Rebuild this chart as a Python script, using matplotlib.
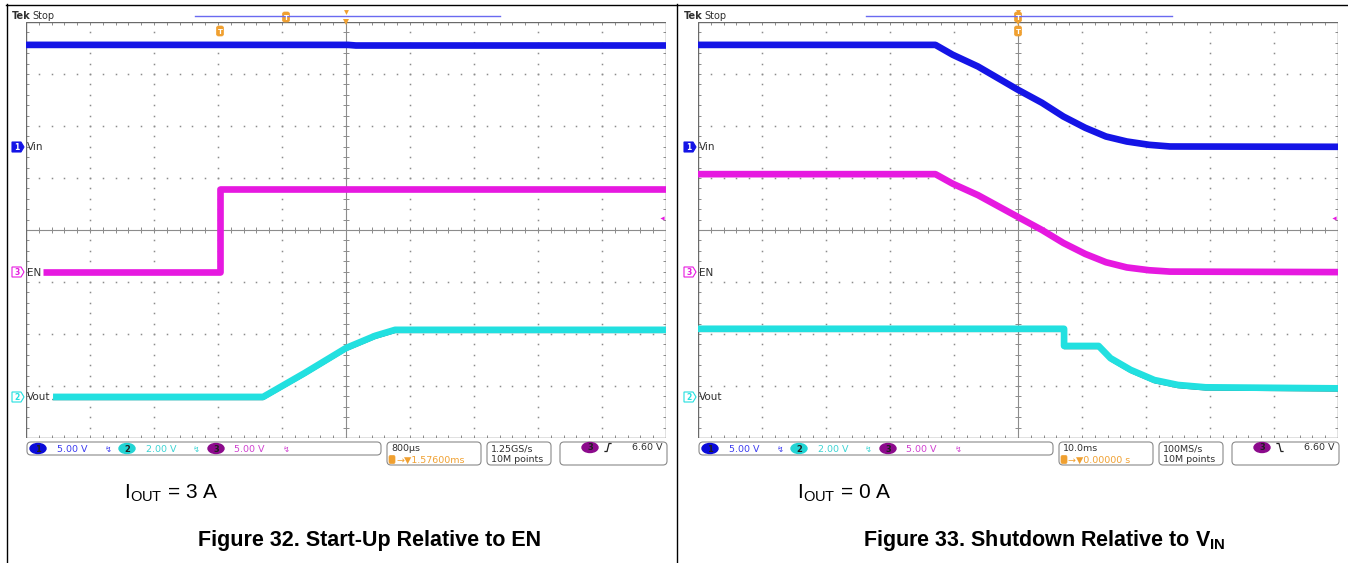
import numpy as np
import matplotlib.pyplot as plt
from matplotlib.patches import FancyBboxPatch, Ellipse, Polygon, Rectangle
from matplotlib.collections import LineCollection

W, H = 1348, 563
plt.rcParams['font.family'] = ['DejaVu Sans']
plt.rcParams['mathtext.fontset'] = 'custom'
plt.rcParams['mathtext.rm'] = 'Liberation Sans'
plt.rcParams['mathtext.bf'] = 'Liberation Sans:bold'

# channel settings: V/div and ground marker position (divisions from centre)
VIN_SCALE, VOUT_SCALE, EN_SCALE = 5.0, 2.0, 5.0
VIN_POS, EN_POS, VOUT_POS = 1.60, -0.81, -3.21

# Figure 32: start-up relative to EN, 800 us/div, times in ms from trigger
su_centre, su_div = 1.576, 0.8
su_vin_t = [-2.424, 1.60, 1.70, 5.576]
su_vin_v = [9.80, 9.80, 9.74, 9.74]
su_en_t = [-2.21, 0.0, 0.0, 5.576]
su_en_v = [0.0, 0.0, 7.98, 7.98]
su_vout_t = [-2.086, 0.54, 1.06, 1.576, 1.94, 2.19, 5.576]
su_vout_v = [0.0, 0.0, 0.92, 1.88, 2.35, 2.58, 2.58]

# Figure 33: shutdown relative to VIN, 10 ms/div, trigger at centre
sd_centre, sd_div = 0.0, 10.0
sd_vin_t = [-50, -12.9, -10.2, -6.25, 0.0, 3.75, 7.1, 10.5, 13.75, 17.0, 20.5, 23.75, 50]
sd_vin_v = [9.80, 9.80, 8.85, 7.72, 5.48, 4.23, 2.91, 1.83, 0.99, 0.51, 0.19, 0.03, 0.0]
sd_en_t = [-50, -12.9, -10.2, -6.25, 0.0, 3.75, 7.1, 10.5, 13.75, 17.0, 20.5, 23.75, 50]
sd_en_v = [9.42, 9.42, 8.50, 7.40, 5.30, 4.05, 2.80, 1.75, 0.95, 0.45, 0.18, 0.05, 0.0]
sd_vout_t = [-50, 7.2, 7.2, 12.6, 14.45, 17.6, 21.3, 25.0, 29.3, 50]
sd_vout_v = [2.62, 2.62, 1.96, 1.96, 1.49, 1.04, 0.65, 0.46, 0.37, 0.33]

BLUE, MAGENTA, CYAN = '#1414e6', '#e619e0', '#22e0e0'
ORANGE = '#f0a030'
GRID = '#8c8c8c'


def graticule(ax):
    tr = ax.transAxes
    px, py = 1 / 640, 1 / 416
    segs = []
    for m in range(1, 50):
        x = m / 50
        segs += [[(x, 0), (x, 3 * py)], [(x, 1), (x, 1 - 3 * py)],
                 [(x, 0.5 - 3 * py), (x, 0.5 + 3 * py)]]
    for m in range(1, 40):
        y = m / 40
        segs += [[(0, y), (3 * px, y)], [(1, y), (1 - 3 * px, y)],
                 [(0.5 - 3 * px, y), (0.5 + 3 * px, y)]]
    ax.add_collection(LineCollection(segs, colors=GRID, lw=0.7, transform=tr, zorder=1))
    ax.plot([0.5, 0.5], [0, 1], color=GRID, lw=0.8, transform=tr, zorder=1)
    ax.plot([0, 1], [0.5, 0.5], color=GRID, lw=0.8, transform=tr, zorder=1)
    for k in range(1, 10):
        if k == 5:
            continue
        ys = np.arange(1, 40) / 40
        ax.plot(np.full(39, k / 10), ys, ls='none', marker='s', ms=1.1, mew=0,
                color=GRID, transform=tr, zorder=1)
    for j in range(1, 8):
        if j == 4:
            continue
        xs = np.arange(1, 50) / 50
        ax.plot(xs, np.full(49, j / 8), ls='none', marker='s', ms=1.1, mew=0,
                color=GRID, transform=tr, zorder=1)
    ax.add_patch(Rectangle((0, 0), 1, 1, fill=False, ec='#6a6a6a', lw=1.0,
                           transform=tr, zorder=1))


def scope(left_px, centre, per_div, traces):
    ax = fig.add_axes([left_px / W, 1 - 438 / H, 640 / W, 416 / H])
    ax.set_xlim(centre - 5 * per_div, centre + 5 * per_div)
    ax.set_ylim(-4, 4)
    ax.set_axis_off()
    graticule(ax)
    for t, v, scale, pos, col in traces:
        y = pos + np.array(v) / scale
        if col == CYAN:
            ax.plot(t, y - 0.05, color='#1a6a6a', lw=1.0, zorder=2,
                    solid_joinstyle='round')
        ax.plot(t, y, color=col, lw=4.8, zorder=3, solid_capstyle='butt',
                solid_joinstyle='round')
    return ax


fig = plt.figure(figsize=(W / 100, H / 100), dpi=100)
fig.patch.set_facecolor('white')

scope(26, su_centre, su_div, [
    (su_vin_t, su_vin_v, VIN_SCALE, VIN_POS, BLUE),
    (su_en_t, su_en_v, EN_SCALE, EN_POS, MAGENTA),
    (su_vout_t, su_vout_v, VOUT_SCALE, VOUT_POS, CYAN),
])
scope(698, sd_centre, sd_div, [
    (sd_vin_t, sd_vin_v, VIN_SCALE, VIN_POS, BLUE),
    (sd_en_t, sd_en_v, EN_SCALE, EN_POS, MAGENTA),
    (sd_vout_t, sd_vout_v, VOUT_SCALE, VOUT_POS, CYAN),
])

# pixel overlay for frame, scope annotations and captions
ov = fig.add_axes([0, 0, 1, 1])
ov.set_xlim(0, W)
ov.set_ylim(H, 0)
ov.set_axis_off()
ov.patch.set_alpha(0)

ov.plot([6, W], [4.5, 4.5], color='black', lw=1.0)
ov.plot([6.5, 6.5], [4, H], color='black', lw=1.0)
ov.plot([676.5, 676.5], [4, H], color='black', lw=1.0)


def badge(x, y, num, col, filled):
    pts = [(x - 6, y - 5), (x + 3, y - 5), (x + 6, y), (x + 3, y + 5), (x - 6, y + 5)]
    ov.add_patch(Polygon(pts, closed=True, fc=col if filled else 'white', ec=col, lw=0.8))
    ov.text(x - 1, y + 0.5, num, fontsize=5.5, ha='center', va='center',
            color='white' if filled else col, fontweight='bold')


def orange_t(x, y):
    ov.add_patch(FancyBboxPatch((x - 3.5, y - 5), 7, 10,
                                boxstyle='round,pad=0,rounding_size=2',
                                fc=ORANGE, ec=ORANGE, lw=0.5))
    ov.text(x, y + 0.5, 'T', fontsize=5, ha='center', va='center', color='white',
            fontweight='bold')


def rbox(x, y, w, h):
    ov.add_patch(FancyBboxPatch((x, y), w, h, boxstyle='round,pad=0,rounding_size=4',
                                fc='white', ec='#8a8a8a', lw=0.8))


def chip(x, y, num, col):
    ov.add_patch(Ellipse((x, y), 16, 10, fc=col, ec=col))
    ov.text(x, y + 0.5, num, fontsize=6, ha='center', va='center', color='#202020',
            fontweight='bold')


def edge(x, y, rising):
    if rising:
        xs, ys = [x - 3, x - 1, x + 1, x + 3], [y + 4, y + 4, y - 4, y - 4]
    else:
        xs, ys = [x - 3, x - 1, x + 1, x + 3], [y - 4, y - 4, y + 4, y + 4]
    ov.plot(xs, ys, color='#202020', lw=0.9)


panels = [
    dict(dx=0, trig_line=(195, 500), trig_mark=286, badge_x=220,
         tdiv='800\u00b5s', tpos='1.57600ms', rate='1.25GS/s', rising=True,
         iout=r'I$_{\mathrm{OUT}}$ = 3 A', cap='Figure 32. Start-Up Relative to EN',
         cap_x=370, iout_x=124),
    dict(dx=672, trig_line=(866, 1172), trig_mark=1018, badge_x=1018,
         tdiv='10.0ms', tpos='0.00000 s', rate='100MS/s', rising=False,
         iout=r'I$_{\mathrm{OUT}}$ = 0 A',
         cap=r'Figure 33. Shutdown Relative to V$_{\mathbf{IN}}$',
         cap_x=1044, iout_x=797),
]

for p in panels:
    dx = p['dx']
    # header
    ov.text(12 + dx, 16, 'Tek', fontsize=7, fontweight='bold', color='#303030', va='center')
    ov.text(32 + dx, 16, 'Stop', fontsize=7, color='#303030', va='center')
    ov.plot(p['trig_line'], [15.5, 15.5], color='#6a6af0', lw=1.0)
    orange_t(p['trig_mark'], 17)
    orange_t(p['badge_x'], 31)
    ov.plot([346 + dx], [12], marker='v', ms=3.5, color=ORANGE, mew=0)
    ov.plot([346 + dx], [22], marker='v', ms=4, color=ORANGE, mew=0)

    # channel markers
    badge(18 + dx, 147, '1', BLUE, True)
    ov.text(27 + dx, 147.5, 'Vin', fontsize=7.5, color='#303030', va='center')
    badge(18 + dx, 272, '3', MAGENTA, False)
    ov.text(27 + dx, 272.5, 'EN', fontsize=7.5, color='#303030', va='center')
    badge(18 + dx, 397, '2', CYAN, False)
    ov.text(27 + dx, 397.5, 'Vout', fontsize=7.5, color='#303030', va='center')
    ov.plot([662 + dx], [218], marker='<', ms=3, color=MAGENTA, mew=0)

    # status bar
    rbox(27 + dx, 442, 354, 13)
    chip(38 + dx, 448.5, '1', '#0a0ad8')
    ov.text(57 + dx, 449, '5.00 V', fontsize=6.8, color='#3c3cf0', va='center')
    ov.text(105 + dx, 449, '\u21af', fontsize=6, color='#3c3cf0', va='center')
    chip(127 + dx, 448.5, '2', '#22d4d4')
    ov.text(146 + dx, 449, '2.00 V', fontsize=6.8, color='#3cd4d4', va='center')
    ov.text(193 + dx, 449, '\u21af', fontsize=6, color='#3cd4d4', va='center')
    chip(216 + dx, 448.5, '3', '#8c0a8c')
    ov.text(234 + dx, 449, '5.00 V', fontsize=6.8, color='#d040d0', va='center')
    ov.text(283 + dx, 449, '\u21af', fontsize=6, color='#d040d0', va='center')

    rbox(387 + dx, 442, 94, 23)
    ov.text(391 + dx, 448.5, p['tdiv'], fontsize=6.8, color='#303030', va='center')
    ov.add_patch(FancyBboxPatch((389 + dx, 455.5), 6, 8,
                                boxstyle='round,pad=0,rounding_size=1.5',
                                fc=ORANGE, ec=ORANGE, lw=0.5))
    ov.text(396 + dx, 460, '\u2192\u25bc' + p['tpos'], fontsize=6.8, color=ORANGE,
            va='center')

    rbox(487 + dx, 442, 64, 23)
    ov.text(491 + dx, 448.5, p['rate'], fontsize=6.8, color='#303030', va='center')
    ov.text(491 + dx, 460, '10M points', fontsize=6.8, color='#303030', va='center')

    rbox(560 + dx, 442, 107, 23)
    chip(590 + dx, 447.5, '3', '#8c0a8c')
    edge(608 + dx, 447.5, p['rising'])
    ov.text(662 + dx, 448, '6.60 V', fontsize=6.8, color='#303030', va='center',
            ha='right')

    # figure text
    ov.text(p['iout_x'], 498, p['iout'], fontsize=15, family='Liberation Sans',
            va='baseline', color='black')
    ov.text(p['cap_x'], 546, p['cap'], fontsize=15.5, family='Liberation Sans',
            fontweight='bold', va='baseline', ha='center', color='black')

fig.savefig('out.png', dpi=100)
